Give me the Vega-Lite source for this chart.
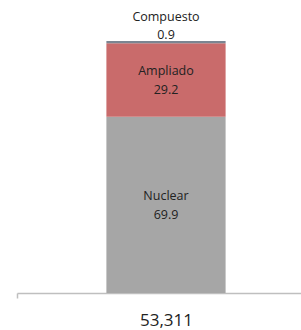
{
  "$schema": "https://vega.github.io/schema/vega-lite/v6.json",
  "autosize": {"type": "none"},
  "width": 298,
  "height": 252,
  "padding": {"left": 17, "top": 41, "right": 0, "bottom": 37},
  "background": "white",
  "config": {"view": {"stroke": null}, "font": "Open Sans"},
  "data": {"values": [
    {"grupo": "53,311", "tipo": "Nuclear", "orden": 1, "valor": 69.9},
    {"grupo": "53,311", "tipo": "Ampliado", "orden": 2, "valor": 29.2},
    {"grupo": "53,311", "tipo": "Compuesto", "orden": 3, "valor": 0.9}
  ]},
  "transform": [
    {"stack": "valor", "groupby": ["grupo"], "sort": [{"field": "orden", "order": "ascending"}], "as": ["v0", "v1"]},
    {"calculate": "(datum.v0 + datum.v1) / 2", "as": "mid"}
  ],
  "encoding": {
    "x": {
      "field": "grupo", "type": "nominal",
      "scale": {"paddingInner": 0, "paddingOuter": 0},
      "axis": {
        "title": null, "labelAngle": 0, "labelFontSize": 17, "labelColor": "#222222",
        "labelPadding": 14, "domainColor": "#bfbfbf", "domainWidth": 1.5,
        "tickBand": "extent", "tickColor": "#bfbfbf", "tickSize": 5, "tickWidth": 1.5,
        "labelFont": "Open Sans"
      }
    }
  },
  "layer": [
    {
      "mark": {"type": "bar", "width": {"band": 0.4}},
      "encoding": {
        "y": {"field": "v0", "type": "quantitative", "scale": {"domain": [0, 100], "nice": false}, "axis": null},
        "y2": {"field": "v1"},
        "color": {
          "field": "tipo", "type": "nominal", "legend": null,
          "scale": {"domain": ["Nuclear", "Ampliado", "Compuesto"], "range": ["#a6a6a6", "#c96b6b", "#7b8591"]}
        }
      }
    },
    {
      "transform": [{"filter": "datum.tipo != 'Compuesto'"}],
      "mark": {"type": "text", "fontSize": 12.5, "color": "#222222", "dy": -9},
      "encoding": {
        "y": {"field": "mid", "type": "quantitative", "scale": {"domain": [0, 100], "nice": false}},
        "text": {"field": "tipo"}
      }
    },
    {
      "transform": [{"filter": "datum.tipo != 'Compuesto'"}],
      "mark": {"type": "text", "fontSize": 12.5, "color": "#222222", "dy": 10},
      "encoding": {
        "y": {"field": "mid", "type": "quantitative"},
        "text": {"field": "valor", "format": ".1f"}
      }
    },
    {
      "transform": [{"filter": "datum.tipo == 'Compuesto'"}],
      "mark": {"type": "text", "fontSize": 12.5, "color": "#222222", "dy": -24},
      "encoding": {
        "y": {"field": "v1", "type": "quantitative"},
        "text": {"field": "tipo"}
      }
    },
    {
      "transform": [{"filter": "datum.tipo == 'Compuesto'"}],
      "mark": {"type": "text", "fontSize": 12.5, "color": "#222222", "dy": -6},
      "encoding": {
        "y": {"field": "v1", "type": "quantitative"},
        "text": {"field": "valor", "format": ".1f"}
      }
    }
  ]
}
